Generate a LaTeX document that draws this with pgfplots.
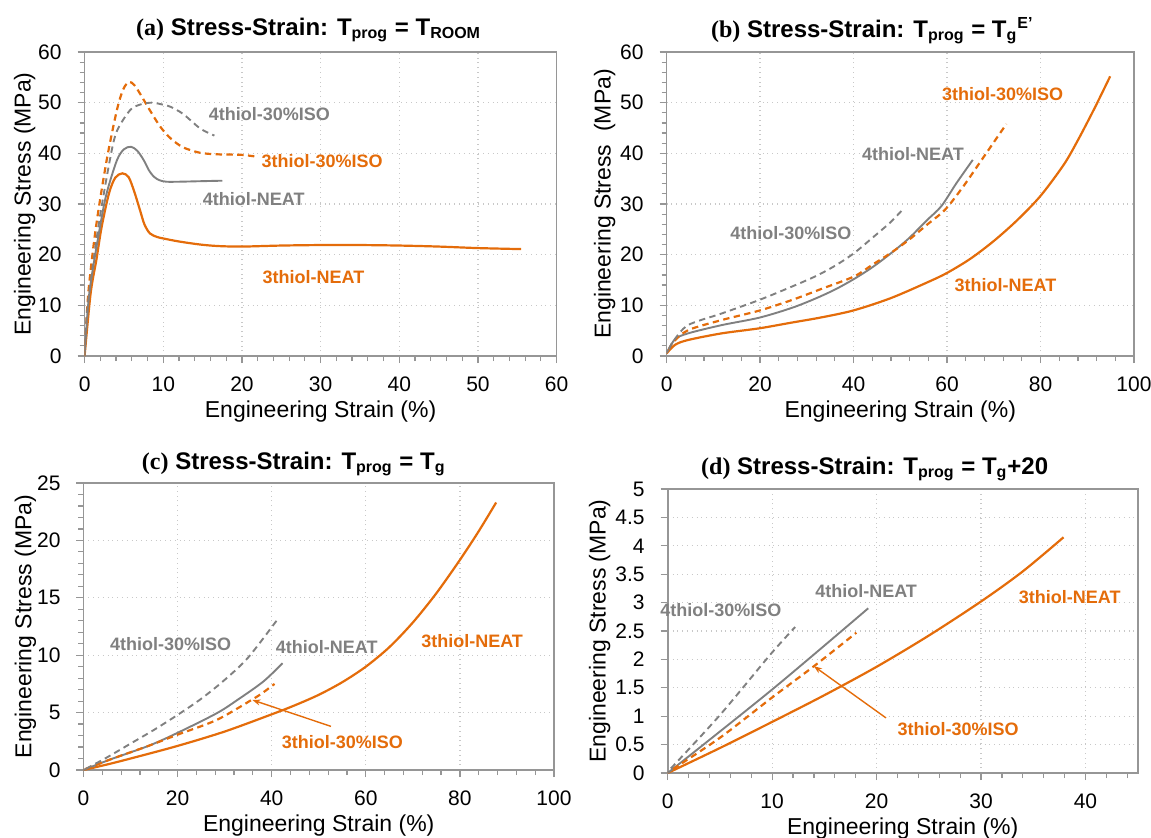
\documentclass[border=0pt]{standalone}
\usepackage{fontspec}
\setmainfont{Liberation Sans}
\newfontfamily\serifb{Liberation Serif}
\usepackage{pgfplots}
\pgfplotsset{compat=1.18}
\usetikzlibrary{arrows.meta}

\definecolor{orangeC}{RGB}{228,108,10}
\definecolor{grayC}{RGB}{128,128,128}
\definecolor{frameC}{RGB}{150,150,150}
\definecolor{gridC}{RGB}{200,200,200}

\tikzset{lbl/.style={font=\bfseries\fontsize{9}{10}\selectfont, inner sep=0pt}}

\pgfplotsset{
  panel/.style={
    scale only axis,
    anchor=south west,
    clip mode=individual,
    axis line style={frameC, line width=0.8pt},
    tick style={frameC, line width=0.6pt},
    tick align=outside,
    major tick length=3.5pt,
    minor tick length=2.5pt,
    xtick pos=bottom, ytick pos=left,
    grid=major,
    major grid style={gridC, dotted, line width=0.6pt},
    tick label style={font=\fontsize{10.5}{12}\selectfont},
    /pgf/number format/assume math mode=true,
    xticklabel style={anchor=north, yshift=-3.25pt},
    yticklabel style={anchor=east, xshift=-4.5pt},
    label style={font=\fontsize{11.5}{13}\selectfont},
    xlabel style={at={(axis description cs:0.5,0)}, anchor=center, yshift=-28pt},
    ylabel style={at={(axis description cs:0,0.5)}, anchor=center},
    title style={font=\bfseries\fontsize{12}{14}\selectfont, at={(axis description cs:0.5,1)}, anchor=base},
    xlabel={Engineering Strain (\%)},
    ylabel={Engineering Stress (MPa)},
  },
  orng/.style={orangeC, line width=1.1pt, smooth, no marks},
  gry/.style={grayC, line width=0.95pt, smooth, no marks},
  dsh/.style={dash pattern=on 3.2pt off 2.2pt},
}

\begin{document}
\begin{tikzpicture}
\useasboundingbox (0,0) rectangle (575.5pt,418.5pt);

% (a)
\begin{axis}[panel, at={(42.3pt,240.5pt)}, width=236pt, height=152pt,
  xmin=0, xmax=60, ymin=0, ymax=60,
  xtick={0,10,...,60}, ytick={0,10,...,60},
  minor x tick num=4, minor y tick num=4,
  ylabel style={yshift=30pt},
  title style={xshift=-6pt, yshift=2.5pt},
  title={{\serifb\bfseries (a)}~Stress-Strain: T\textsubscript{prog} = T\textsubscript{ROOM}}]
\addplot[orng] coordinates {(0,0) (0.77,12.4) (1.5,19) (2.17,25.5) (3.1,32.1) (3.9,35.2) (4.8,36.05) (5.6,35.3) (6.3,32.5) (7.04,28.8) (7.6,26.0) (8.3,24.2) (9.2,23.5) (10,23.2) (12,22.6) (14.7,22.0) (17,21.7) (20,21.6) (25,21.8) (30,21.9) (35,21.9) (40,21.8) (45,21.6) (50,21.3) (55.5,21.1)};
\addplot[gry] coordinates {(0,0) (0.6,12.4) (1.96,25.5) (2.8,32.1) (4.1,38.6) (5.0,40.8) (5.9,41.3) (6.7,40.5) (7.5,38.7) (8.2,36.6) (8.8,35.4) (9.5,34.7) (10.4,34.4) (12,34.4) (14.7,34.5) (17.5,34.6)};
\addplot[orng, dsh] coordinates {(0,0) (0.47,12.4) (1.45,25.5) (2.8,38.6) (4.1,48.5) (4.9,52.6) (5.64,54.1) (6.3,53.5) (7.04,51.8) (8.3,48.5) (9.6,45.3) (10.9,43.0) (12.5,41.2) (14.7,40.1) (17,39.8) (20,39.7) (22,39.3)};
\addplot[gry, dsh] coordinates {(0,0) (0.4,10) (1.75,25.5) (3.2,38.6) (4.08,44.3) (5.77,48.5) (7,49.6) (8.5,50.0) (10,49.6) (10.9,49.2) (12.5,47.8) (14.7,44.9) (16.5,43.5)};
\node[lbl, grayC] at (axis cs:23.5,47.8) {4thiol-30\%ISO};
\node[lbl, orangeC] at (axis cs:30.2,38.5) {3thiol-30\%ISO};
\node[lbl, grayC] at (axis cs:21.5,31.0) {4thiol-NEAT};
\node[lbl, orangeC] at (axis cs:29.1,15.6) {3thiol-NEAT};
\end{axis}

% (b)
\begin{axis}[panel, at={(333.3pt,240.5pt)}, width=233.7pt, height=152pt,
  xmin=0, xmax=100, ymin=0, ymax=60,
  xtick={0,20,...,100}, ytick={0,10,...,60},
  minor x tick num=4, minor y tick num=4,
  ylabel={Engineering Stress\ \ (MPa)},
  ylabel style={yshift=31pt},
  title style={xshift=-14pt, yshift=1.5pt},
  title={{\serifb\bfseries (b)}~Stress-Strain: T\textsubscript{prog} = T\textsubscript{g}\textsuperscript{E’}}]
\addplot[orng] coordinates {(0,0.5) (1.8,2.2) (4.6,3.16) (11.8,4.47) (19.8,5.46) (26.8,6.6) (33,7.6) (40,9.0) (47.9,11.4) (55.7,14.5) (60,16.4) (65,19.2) (70,22.7) (75,26.8) (80,31.6) (85,37.8) (88,42.6) (91.5,48.8) (94.9,55.2)};
\addplot[gry] coordinates {(0,0.6) (1.8,3.3) (4.6,4.47) (11.8,6.1) (19.8,7.56) (26.8,9.5) (32,11.4) (36.2,13.2) (40.1,15.2) (44,17.5) (47.9,20.2) (51.8,23.2) (55.7,26.8) (58.8,29.6) (62,34.1) (65.5,38.7)};
\addplot[orng, dsh] coordinates {(0.5,1.2) (1.5,2.8) (4.6,5.1) (11.8,7.1) (19.8,8.95) (26.8,11.05) (33,13.2) (40.1,15.7) (44,18) (47.9,20.3) (51.8,22.9) (55.7,25.9) (59.6,28.9) (63.5,33.5) (67.4,38.7) (72.7,45.8)};
\addplot[gry, dsh] coordinates {(0.5,1.3) (1.5,3.0) (4.6,6.1) (11.8,8.4) (19.8,11.05) (26.8,13.7) (32,15.8) (36.2,17.9) (40.1,20.3) (44,23.3) (47.9,26.4) (50.6,29)};
\node[lbl, orangeC] at (axis cs:71.9,51.6) {3thiol-30\%ISO};
\node[lbl, grayC] at (axis cs:52.7,39.9) {4thiol-NEAT};
\node[lbl, grayC] at (axis cs:26.6,24.2) {4thiol-30\%ISO};
\node[lbl, orangeC] at (axis cs:72.5,13.9) {3thiol-NEAT};
\end{axis}

% (c)
\begin{axis}[panel, at={(41.75pt,33.5pt)}, width=235.25pt, height=143.5pt,
  xmin=0, xmax=100, ymin=0, ymax=25,
  xtick={0,20,...,100}, ytick={0,5,...,25},
  minor x tick num=4, minor y tick num=4,
  ylabel style={yshift=29pt},
  title style={xshift=-12.5pt, yshift=1pt},
  title={{\serifb\bfseries (c)}~Stress-Strain: T\textsubscript{prog} = T\textsubscript{g}}]
\addplot[orng] coordinates {(0,0) (5,0.48) (10,1.0) (20,2.1) (30,3.35) (40,4.85) (45,5.65) (50,6.55) (55,7.65) (60,9.0) (65,10.7) (70,12.85) (75,15.4) (80,18.3) (84,20.8) (87.7,23.3)};
\addplot[gry] coordinates {(0,0) (5.9,0.95) (13.8,2.1) (19.8,3.2) (28.3,4.94) (32.7,6.1) (38.2,7.7) (42.3,9.3)};
\addplot[orng, dsh] coordinates {(0.5,0.1) (5.9,0.95) (13.8,2.1) (19.8,3.05) (28.3,4.36) (35.7,6.1) (38,6.7) (40.6,7.5)};
\addplot[gry, dsh] coordinates {(0.5,0.1) (5,1.1) (10,2.3) (15,3.5) (20,4.8) (25,6.2) (30,7.85) (35,9.8) (41.2,13.1)};
\node[lbl, grayC] at (axis cs:18.5,11.0) {4thiol-30\%ISO};
\node[lbl, grayC] at (axis cs:51.7,10.7) {4thiol-NEAT};
\node[lbl, orangeC] at (axis cs:82.6,11.25) {3thiol-NEAT};
\node[lbl, orangeC] at (axis cs:55,2.4) {3thiol-30\%ISO};
\draw[orangeC, line width=0.7pt, -{Stealth[length=4pt,width=3pt]}] (axis cs:52.6,3.8) -- (axis cs:35.9,6.1);
\end{axis}

% (d)
\begin{axis}[panel, at={(333.85pt,32pt)}, width=235pt, height=142pt,
  xmin=0, xmax=45, ymin=0, ymax=5,
  xtick={0,10,...,40}, ytick={0,0.5,1,1.5,2,2.5,3,3.5,4,4.5,5},
  minor xtick={2,4,6,8,12,14,16,18,22,24,26,28,32,34,36,38,42,44},
  ylabel style={yshift=34pt},
  title style={xshift=-14pt, yshift=1.5pt},
  title={{\serifb\bfseries (d)}~Stress-Strain: T\textsubscript{prog} = T\textsubscript{g}+20}]
\addplot[orng] coordinates {(0,0) (5,0.44) (10,0.9) (15,1.37) (20,1.87) (25,2.42) (30,3.02) (34,3.55) (37.9,4.15)};
\addplot[gry] coordinates {(0,0) (10,1.47) (19.2,2.9)};
\addplot[orng, dsh] coordinates {(0.5,0.07) (5,0.62) (10,1.33) (14,1.88) (18.06,2.47)};
\addplot[gry, dsh] coordinates {(0.3,0.08) (5,1.02) (9.8,2.08) (12.2,2.57)};
\node[lbl, grayC] at (axis cs:19.0,3.21) {4thiol-NEAT};
\node[lbl, grayC] at (axis cs:5.1,2.86) {4thiol-30\%ISO};
\node[lbl, orangeC] at (axis cs:38.5,3.09) {3thiol-NEAT};
\node[lbl, orangeC] at (axis cs:27.8,0.77) {3thiol-30\%ISO};
\draw[orangeC, line width=0.7pt, -{Stealth[length=4pt,width=3pt]}] (axis cs:20.9,0.97) -- (axis cs:14,1.88);
\end{axis}
\end{tikzpicture}
\end{document}
